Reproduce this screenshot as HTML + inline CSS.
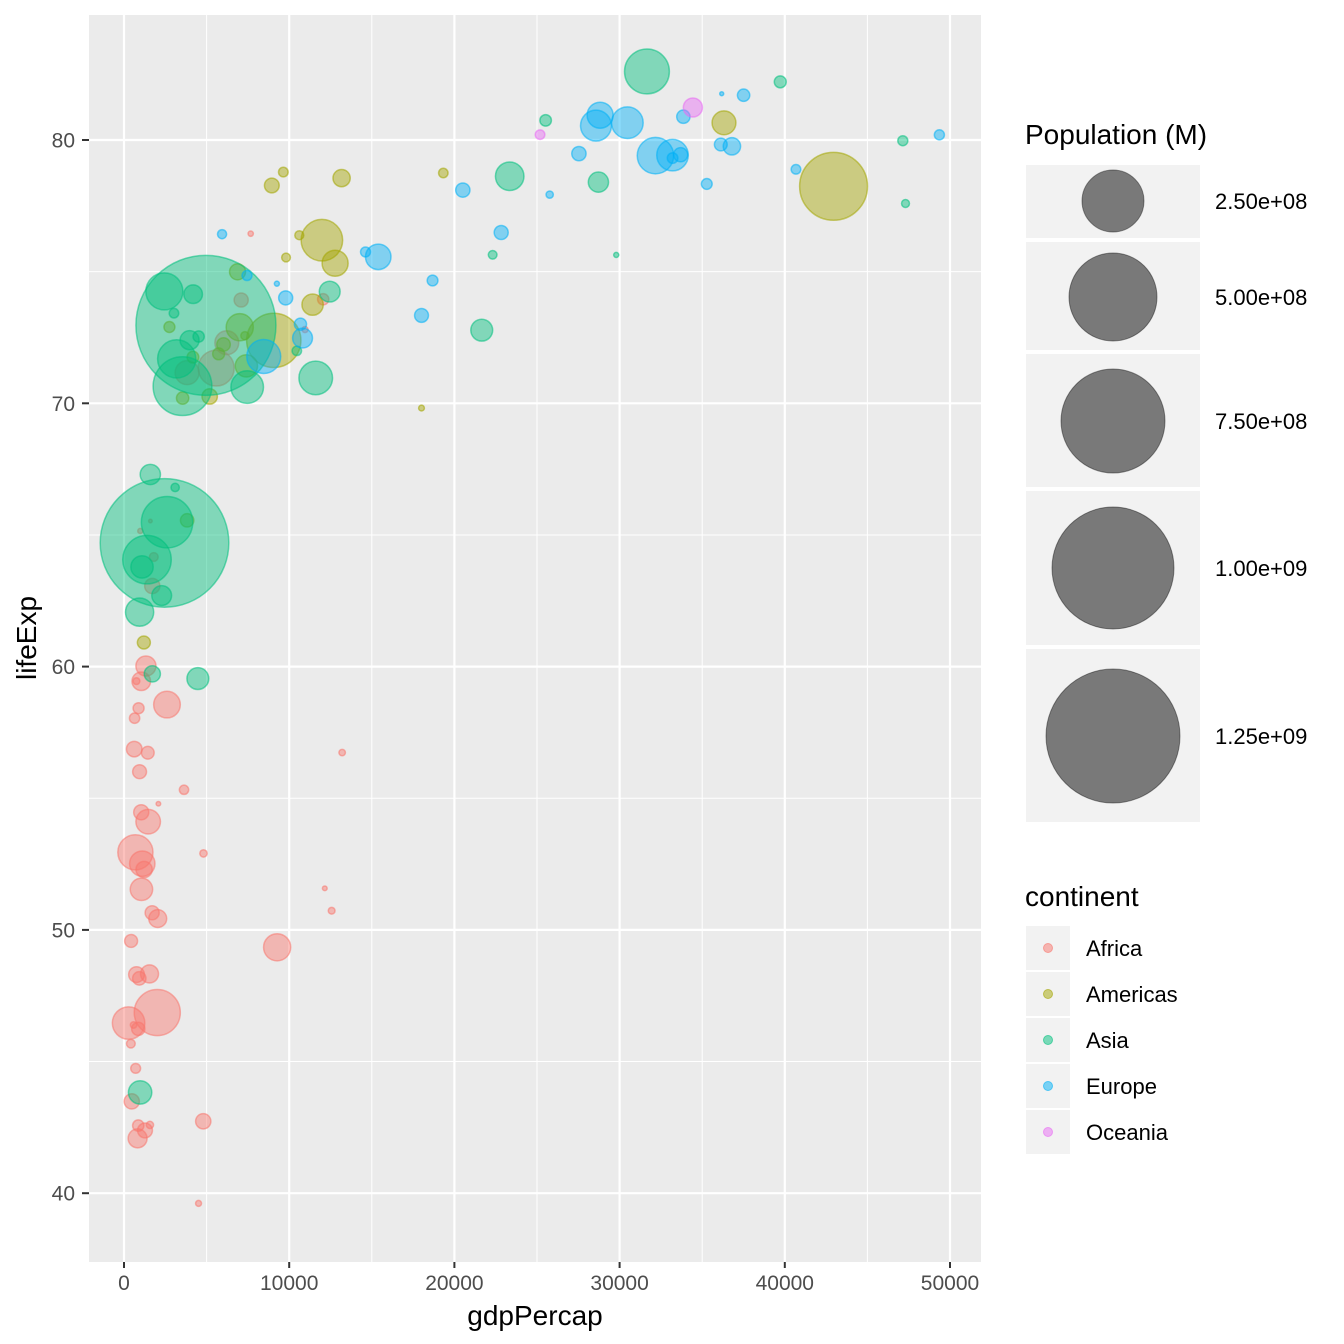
<!DOCTYPE html>
<html><head><meta charset="utf-8"><style>
html,body{margin:0;padding:0;background:#fff;}
svg{display:block;font-family:"Liberation Sans",Arial,sans-serif;}
</style></head><body>
<svg id="chart" width="1344" height="1344" xmlns="http://www.w3.org/2000/svg">
<rect x="0" y="0" width="1344" height="1344" fill="#fff"/>
<rect x="89" y="15" width="892" height="1247" fill="#EBEBEB"/>
<g id="grid"></g>
<g id="points"></g>
<g id="axes"></g>
<text x="535" y="1325" font-size="28" text-anchor="middle" fill="#000">gdpPercap</text>
<text transform="translate(36,638) rotate(-90)" font-size="28" text-anchor="middle" fill="#000">lifeExp</text>
<g id="legend-size">
<text x="1025" y="144" font-size="28" fill="#000">Population (M)</text>
</g>
<g id="legend-color">
<text x="1025" y="906" font-size="28" fill="#000">continent</text>
</g>
</svg>
<script>
const continents = ["Africa","Americas","Asia","Europe","Oceania"];
const continentColors = ["#F8766D","#A3A500","#00BF7D","#00B0F6","#E76BF3"];
const xTicks = [0,10000,20000,30000,40000,50000];
const yTicks = [40,50,60,70,80];
const sizeBreaks = [2.5e8,5e8,7.5e8,1e9,1.25e9];
const sizeLabels = ["2.50e+08","5.00e+08","7.50e+08","1.00e+09","1.25e+09"];
// [lifeExp, popMillions, gdpPercap]
const africa = [[72.301,33.3,6223],[42.731,12.4,4797],[56.728,8.08,1441],[50.728,1.64,12570],[52.295,14.3,1217],[49.580,8.39,430],[50.430,17.7,2042],[44.741,4.37,706],[50.651,10.2,1704],[65.152,0.71,986],[46.462,64.6,278],[55.322,3.8,3633],[48.328,18.0,1545],[54.791,0.496,2082],[71.338,80.3,5581],[51.579,0.551,12154],[58.040,4.9,641],[52.947,76.5,690],[56.735,1.45,13206],[59.448,1.69,753],[60.022,22.9,1327],[56.007,9.9,943],[46.388,1.47,579],[54.110,35.6,1463],[42.592,2.01,1569],[45.678,3.19,415],[73.952,6.04,12057],[59.443,19.2,1045],[48.303,13.3,759],[54.467,12.0,1043],[64.164,3.27,1803],[72.801,1.25,10957],[71.164,33.8,3820],[42.082,20.0,824],[52.906,2.06,4811],[56.867,12.9,620],[46.859,135.0,2014],[76.442,0.80,7670],[46.242,8.86,863],[65.528,0.2,1598],[63.062,12.3,1712],[42.568,6.14,863],[48.159,9.12,926],[49.339,44.0,9270],[58.556,42.3,2602],[39.613,1.13,4513],[52.517,38.1,1107],[58.420,5.7,883],[73.923,10.3,7093],[51.542,29.2,1056],[42.384,11.7,1271],[43.487,12.3,470]];
const americas = [[75.320,40.3,12779],[65.554,9.12,3822],[72.390,190.0,9066],[80.653,33.4,36319],[78.553,16.3,13172],[72.889,44.2,7007],[78.782,4.13,9645],[78.273,11.4,8948],[72.235,9.32,6025],[74.994,13.8,6873],[71.878,6.94,5728],[70.259,12.6,5186],[60.916,8.5,1202],[70.198,7.48,3548],[72.567,2.78,7321],[76.195,108.7,11978],[72.899,5.68,2749],[75.537,3.24,9809],[71.752,6.67,4173],[71.421,28.7,7409],[78.746,3.94,19329],[69.819,1.06,18009],[78.242,301.1,42952],[76.384,3.45,10611],[73.747,26.1,11416]];
const asia = [[43.828,31.9,975],[75.635,0.71,29796],[64.062,150.4,1391],[59.723,14.1,1714],[72.961,1318.7,4959],[82.208,6.98,39725],[64.698,1110.4,2452],[70.650,223.5,3541],[70.964,69.5,11606],[59.545,27.5,4471],[80.745,6.43,25523],[82.603,127.5,31656],[72.535,6.05,4519],[67.297,23.3,1593],[78.623,49.0,23348],[77.588,2.51,47307],[71.993,3.92,10461],[74.241,24.8,12452],[66.803,2.87,3096],[62.069,47.8,944],[63.785,28.9,1091],[75.640,3.2,22316],[65.483,169.3,2606],[71.688,91.1,3190],[72.777,27.6,21655],[79.972,4.55,47143],[72.396,20.4,3970],[74.143,19.3,4185],[78.400,23.2,28718],[70.616,65.1,7458],[74.249,85.3,2442],[73.422,4.02,3025],[62.698,22.2,2281]];
const europe = [[76.423,3.6,5937],[79.829,8.2,36126],[79.441,10.4,33693],[74.852,4.55,7446],[73.005,7.32,10681],[75.748,4.49,14619],[76.486,10.2,22833],[78.332,5.47,35278],[79.313,5.24,33207],[80.657,61.1,30470],[79.406,82.4,32170],[79.483,10.7,27538],[73.338,9.96,18009],[81.757,0.30,36181],[78.885,4.11,40676],[80.546,58.1,28570],[74.543,0.68,9254],[79.762,16.6,36798],[80.196,4.63,49357],[75.563,38.5,15390],[78.098,10.6,20510],[72.476,22.3,10808],[74.002,10.2,9787],[74.663,5.45,18678],[77.926,2.01,25768],[80.941,40.4,28821],[80.884,9.03,33860],[81.701,7.55,37506],[71.777,71.2,8458],[79.425,60.8,33203]];
const oceania = [[81.235,20.4,34435],[80.204,4.12,25185]];
const series = [africa,americas,asia,europe,oceania];

const NS="http://www.w3.org/2000/svg";
function mk(tag,attrs,parent){const e=document.createElementNS(NS,tag);for(const k in attrs)e.setAttribute(k,attrs[k]);parent.appendChild(e);return e;}
const X0=89,X1=981,Y0=15,Y1=1262;
function xs(v){return 124+v*(826/50000);}
function ys(v){return 140+(80-v)*26.33;}
const allPop=series.flat().map(d=>d[1]);
const pMin=Math.min(...allPop),pMax=Math.max(...allPop);
const rMin=1.8,rMax=70;
function rs(p){return rMin+(rMax-rMin)*(Math.sqrt(p)-Math.sqrt(pMin))/(Math.sqrt(pMax)-Math.sqrt(pMin));}

const grid=document.getElementById('grid');
for(let v=5000;v<=45000;v+=10000){const l=mk('line',{x1:xs(v),x2:xs(v),y1:Y0,y2:Y1,stroke:'#fff','stroke-width':1},grid);
}
for(let v=45;v<=85;v+=10){const l=mk('line',{x1:X0,x2:X1,y1:ys(v),y2:ys(v),stroke:'#fff','stroke-width':1},grid);
}
const axes=document.getElementById('axes');
xTicks.forEach(v=>{const l=mk('line',{x1:xs(v),x2:xs(v),y1:Y0,y2:Y1,stroke:'#fff','stroke-width':2.2},grid);

const t=mk('line',{x1:xs(v),x2:xs(v),y1:Y1,y2:Y1+6,stroke:'#333','stroke-width':2},axes);

const tx=mk('text',{x:xs(v),y:1290,'font-size':21,'text-anchor':'middle',fill:'#4D4D4D'},axes);tx.textContent=String(v);
});
yTicks.forEach(v=>{const l=mk('line',{x1:X0,x2:X1,y1:ys(v),y2:ys(v),stroke:'#fff','stroke-width':2.2},grid);

const t=mk('line',{x1:X0-7,x2:X0,y1:ys(v),y2:ys(v),stroke:'#333','stroke-width':2},axes);

const tx=mk('text',{x:75,y:ys(v)+7.5,'font-size':21,'text-anchor':'end',fill:'#4D4D4D'},axes);tx.textContent=String(v);
});

const pts=document.getElementById('points');
series.forEach((arr,ci)=>{arr.forEach(d=>{
const c=mk('circle',{cx:xs(d[2]),cy:ys(d[0]),r:rs(d[1]),fill:continentColors[ci],'fill-opacity':0.45,stroke:continentColors[ci],'stroke-opacity':0.55,'stroke-width':1.5},pts);

});});

const ls=document.getElementById('legend-size');
const boxes=[[165,238,201,31],[242,350,297,44],[354,487,421,52],[491,645,568,61],[649,822,736,67]];
sizeBreaks.forEach((b,i)=>{const bx=boxes[i];
const r=mk('rect',{x:1026,y:bx[0],width:174,height:bx[1]-bx[0],fill:'#F2F2F2'},ls);

const c=mk('circle',{cx:1113,cy:bx[2],r:bx[3],fill:'#000','fill-opacity':0.5,stroke:'#000','stroke-opacity':0.4},ls);

const t=mk('text',{x:1215,y:bx[2]+8,'font-size':22,fill:'#000'},ls);t.textContent=sizeLabels[i];
});

const lc=document.getElementById('legend-color');
continents.forEach((c,i)=>{const y=926+i*46;
const r=mk('rect',{x:1026,y:y,width:44,height:44,fill:'#F2F2F2'},lc);

const d=mk('circle',{cx:1048,cy:y+22,r:4.5,fill:continentColors[i],'fill-opacity':0.5,stroke:continentColors[i],'stroke-opacity':0.6},lc);

const t=mk('text',{x:1086,y:y+30,'font-size':22,fill:'#000'},lc);t.textContent=c;
});
</script>
</body></html>
